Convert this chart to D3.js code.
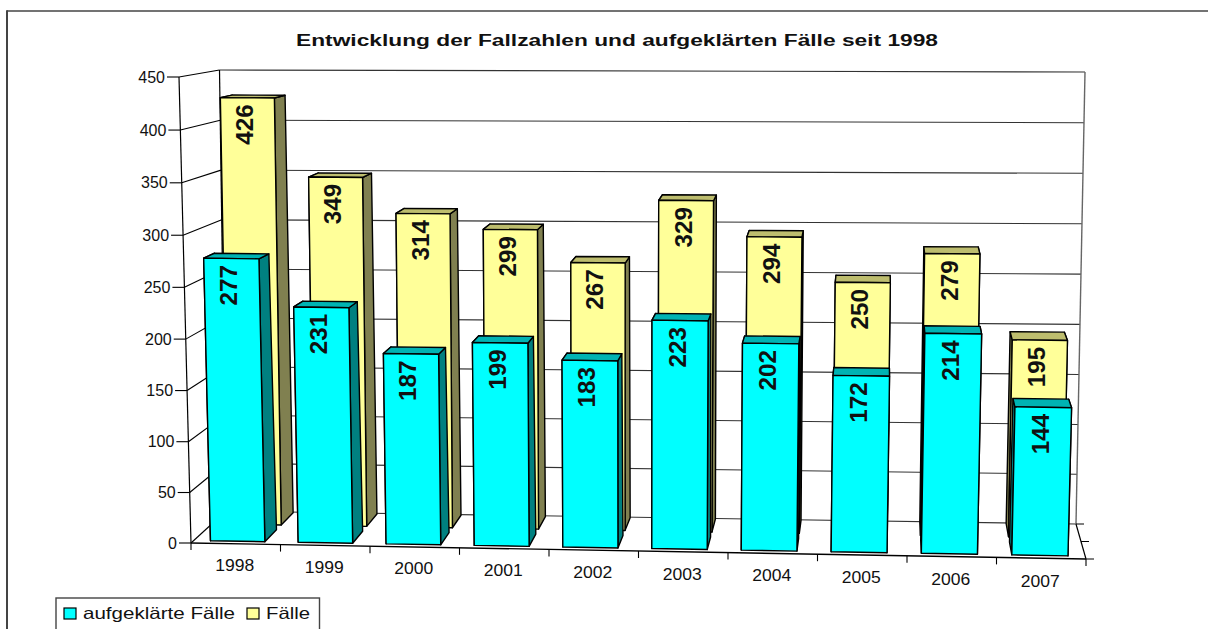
<!DOCTYPE html>
<html><head><meta charset="utf-8">
<style>html,body{margin:0;padding:0;background:#fff;overflow:hidden}svg{display:block}text{font-family:"Liberation Sans",Arial,sans-serif;fill:#111}</style>
<script src="https://cdn.jsdelivr.net/npm/d3@7/dist/d3.min.js"></script>
</head><body><svg id="c" width="1208" height="629"></svg>
<script>
const categories=["1998","1999","2000","2001","2002","2003","2004","2005","2006","2007"];
const solved=[277,231,187,199,183,223,202,172,214,144];
const cases=[426,349,314,299,267,329,294,250,279,195];
const seriesNames=["aufgeklärte Fälle","Fälle"];
const titleText="Entwicklung der Fallzahlen und aufgeklärten Fälle seit 1998";
const yTicks=[0,50,100,150,200,250,300,350,400,450];

const W=1208,H=629;
const svg=d3.select("#c");
// scene scales: category, value, depth -> unit cube
const u=d3.scaleBand().domain(categories).range([0,1]);
const v=d3.scaleLinear().domain([0,450]).range([0,1]);
// perspective corners of the unit cube (front/back, left/right, bottom/top)
const C={fl0:[191,543],fr0:[1086,559],fl1:[179,77],fr1:[1098,91],
         bl0:[226,511],br0:[1076,524],bl1:[219.5,70],br1:[1085,72]};
function P(a,b0,d){
  const b=b0-0.028*(1-0.6*a)*b0*(1-b0); // foreshortening of the value axis
  const m=k=>{
    const f0=C.fl0[k]+(C.fr0[k]-C.fl0[k])*a,f1=C.fl1[k]+(C.fr1[k]-C.fl1[k])*a;
    const b0_=C.bl0[k]+(C.br0[k]-C.bl0[k])*a,b1=C.bl1[k]+(C.br1[k]-C.bl1[k])*a;
    const f=f0+(f1-f0)*b,g=b0_+(b1-b0_)*b;
    return f+(g-f)*d;
  };
  return [m(0),m(1)];
}
const path=d3.line();
function poly(g,pts,fill,sw,st){
  g.append("path").attr("d",path(pts)+"Z").attr("fill",fill).attr("stroke",st||"#000")
   .attr("stroke-width",sw||1.4).attr("stroke-linejoin","round");
}
function seg(g,a,b,st,sw){
  g.append("line").attr("x1",a[0]).attr("y1",a[1]).attr("x2",b[0]).attr("y2",b[1])
   .attr("stroke",st||"#000").attr("stroke-width",sw||1.2);
}
// frame
const fr=svg.append("g");
seg(fr,[7,11],[W,11],"#444",1.6);
seg(fr,[7,10.2],[7,H],"#444",2);
svg.append("text").attr("x",617).attr("y",45.5).attr("text-anchor","middle")
  .attr("font-size",16).attr("font-weight","bold").attr("textLength",642).attr("lengthAdjust","spacingAndGlyphs").text(titleText);

// walls and grid
const wall=svg.append("g");
yTicks.forEach(t=>{
  const b=v(t);
  seg(wall,P(0,b,0),P(0,b,1),"#000",1.1);
  seg(wall,P(0,b,1),P(1,b,1),"#333",1.1);
  const p=P(0,b,0);
  seg(wall,p,[p[0]-12,p[1]],"#000",1.1);
  svg.append("text").attr("x",p[0]-14).attr("y",p[1]+5.5).attr("text-anchor","end")
    .attr("font-size",16).text(t);
});
seg(wall,P(0,0,0),P(0,1,0),"#000",1.2);
seg(wall,P(0,0,1),P(0,1,1),"#000",1.2);
seg(wall,P(1,0,1),P(1,1,1),"#666",1.4);
seg(wall,P(0,0,0),P(1,0,0),"#000",1.4);
seg(wall,P(1,0,0),P(1,0,1),"#000",1.2);
[0,.5,1].forEach(d=>{const p=P(1,0,d);seg(wall,p,[p[0]+8,p[1]],"#000",1);});
categories.forEach((c,i)=>{
  const a=u(c);
  const p=P(a,0,0);seg(wall,p,[p[0],p[1]+7],"#000",1.1);
  const q=P(a+u.bandwidth()/2,0,0);
  svg.append("text").attr("x",q[0]-1).attr("y",q[1]+27+a*1.5).attr("text-anchor","middle")
    .attr("font-size",16).attr("textLength",39).attr("lengthAdjust","spacingAndGlyphs").text(c);
});
{const p=P(1,0,0);seg(wall,p,[p[0],p[1]+7],"#000",1.1);}

// bars
const bw=u.bandwidth();
const bow=a=>a-0.0052*Math.sin(Math.PI*a)+0.001;
function bars(vals,d0,d1,col){
  const g=svg.append("g");
  vals.forEach((val,i)=>{
    const s=u(categories[i]);
    const a0=bow(s+bw*.18),a1=bow(s+bw*.8),t=v(val);
    const dt=d0+(d1-d0)*.78;
    poly(g,[P(a0,0,d0),P(a0,0,d1),P(a0,t,dt),P(a0,t,d0)],col.side);
    poly(g,[P(a1,0,d0),P(a1,0,d1),P(a1,t,dt),P(a1,t,d0)],col.side);
    poly(g,[P(a0,t,d0),P(a1,t,d0),P(a1,t,dt),P(a0,t,dt)],col.top);
    poly(g,[P(a0,0,d0),P(a1,0,d0),P(a1,t,d0),P(a0,t,d0)],col.front);
    const m=P((a0+a1)/2,t,d0);
    g.append("text").attr("transform",`translate(${m[0]-3},${m[1]+6.5}) rotate(-90)`)
      .attr("text-anchor","end").attr("dy","0.36em")
      .attr("font-size",23.5).attr("font-weight","bold").attr("fill","#000")
      .attr("textLength",40.5).attr("lengthAdjust","spacingAndGlyphs").text(val);
  });
}
const yellow={front:"#FFFF99",side:"#808050",top:"#BDBD6E"};
const cyan={front:"#00FFFF",side:"#008080",top:"#00B3B3"};
bars(cases,.6,.98,yellow);
bars(solved,.08,.45,cyan);

// legend
const lg=svg.append("g");
lg.append("rect").attr("x",56).attr("y",598).attr("width",263.5).attr("height",40).attr("fill","#fff").attr("stroke","#444").attr("stroke-width",1.4);
[[64,83,seriesNames[0],152,cyan.front],[247,266,seriesNames[1],44,yellow.front]].forEach(([x,tx,s,tl,c])=>{
  lg.append("rect").attr("x",x).attr("y",608).attr("width",12).attr("height",11).attr("fill",c).attr("stroke","#000").attr("stroke-width",1.2);
  lg.append("text").attr("x",tx).attr("y",618.5).attr("font-size",16.5).attr("textLength",tl).attr("lengthAdjust","spacingAndGlyphs").text(s);
});
</script></body></html>
